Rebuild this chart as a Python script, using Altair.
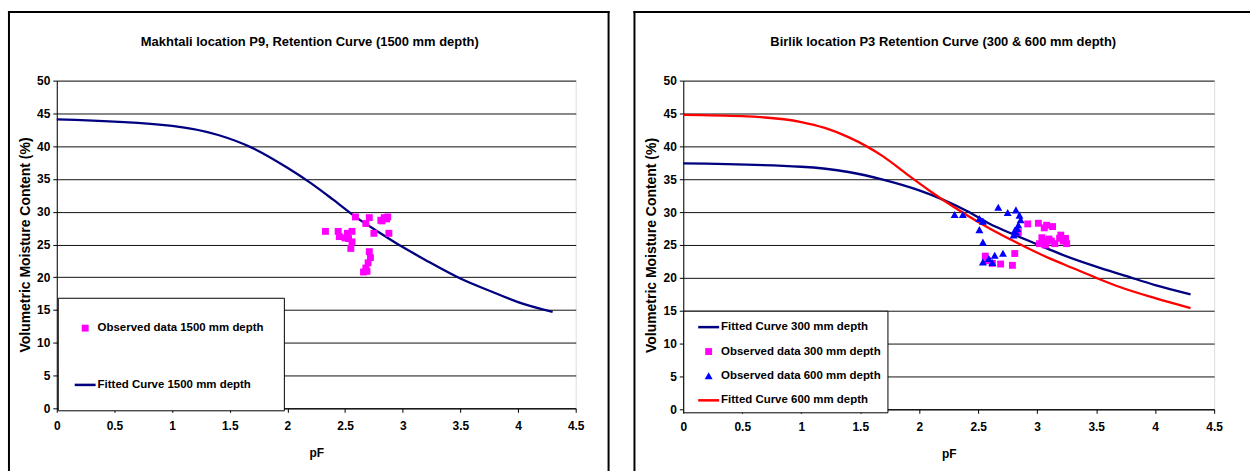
import altair as alt
import pandas as pd

FONT = "Liberation Sans"

# ---------------- Left panel: Makhtali P9 (1500 mm) ----------------
L_TITLE = "Makhtali location P9, Retention Curve (1500 mm depth)"
L_SERIES = ["Observed data 1500 mm depth", "Fitted Curve 1500 mm depth"]

L_fit_pf = [0, 1.0, 1.4, 1.7, 2.0, 2.2, 2.4, 2.6, 2.8, 3.0, 3.2, 3.5, 3.8, 4.0, 4.3]
L_fit_vmc = [44.1, 43.1, 41.7, 39.7, 36.7, 34.4, 31.8, 29.1, 26.8, 24.6, 22.6, 19.8, 17.6, 16.2, 14.7]

L_obs_pf = [2.33, 2.44, 2.45, 2.52, 2.53, 2.56, 2.56, 2.55, 2.59, 2.68, 2.71, 2.75, 2.81,
            2.84, 2.87, 2.88, 2.71, 2.72, 2.70, 2.68, 2.66, 2.69, 2.82, 2.86, 2.50]
L_obs_vmc = [27.0, 27.0, 26.2, 26.7, 25.9, 27.0, 25.4, 24.4, 29.2, 28.2, 29.1, 26.7, 28.7,
             29.1, 29.2, 26.7, 23.9, 23.0, 22.2, 21.4, 20.8, 20.9, 28.6, 28.9, 26.0]

# ---------------- Right panel: Birlik P3 (300 & 600 mm) ----------------
R_TITLE = "Birlik location P3 Retention Curve (300 & 600 mm depth)"
R_SERIES = ["Fitted Curve 300 mm depth", "Observed data 300 mm depth",
            "Observed data 600 mm depth", "Fitted Curve 600 mm depth"]

R_fit300_pf = [0, 1.0, 1.4, 1.7, 2.0, 2.2, 2.4, 2.6, 2.8, 3.0, 3.2, 3.5, 3.75, 4.0, 4.3]
R_fit300_vmc = [37.4, 36.9, 36.1, 34.9, 33.3, 31.9, 30.2, 28.2, 26.6, 25.1, 23.6, 21.7, 20.3, 18.9, 17.5]

R_fit600_pf = [0, 0.5, 1.0, 1.2, 1.4, 1.7, 1.9, 2.1, 2.3, 2.5, 2.7, 2.9, 3.1, 3.3, 3.5, 3.7, 4.0, 4.3]
R_fit600_vmc = [44.8, 44.6, 43.7, 42.8, 41.4, 38.4, 35.7, 33.1, 30.7, 28.5, 26.5, 24.7, 23.0, 21.5, 20.0, 18.6, 16.9, 15.4]

R_obs300_pf = [2.92, 3.01, 3.08, 3.13, 3.06, 3.04, 3.02, 3.07, 3.10, 3.15, 3.19, 3.20, 3.24,
               3.25, 3.12, 3.22, 3.05, 2.84, 2.56, 2.62, 2.58, 2.69, 2.79, 2.81]
R_obs300_vmc = [28.2, 28.3, 28.0, 27.8, 27.6, 26.1, 25.2, 25.0, 25.9, 25.2, 26.0, 26.5, 26.0,
                25.2, 25.6, 25.6, 25.6, 26.9, 23.3, 22.2, 22.6, 22.1, 21.9, 23.7]

R_obs600_pf = [2.30, 2.37, 2.51, 2.54, 2.51, 2.54, 2.67, 2.75, 2.82, 2.85, 2.86, 2.84, 2.83,
               2.82, 2.80, 2.54, 2.59, 2.62, 2.64, 2.71, 2.81]
R_obs600_vmc = [29.6, 29.6, 29.0, 28.6, 27.3, 25.4, 30.7, 29.9, 30.3, 29.5, 28.8, 28.0, 27.5,
                26.9, 26.5, 22.4, 22.9, 22.3, 23.4, 23.7, 27.2]

X_TICKS = [0, 0.5, 1, 1.5, 2, 2.5, 3, 3.5, 4, 4.5]
Y_TICKS = list(range(0, 51, 5))

NAVY = "#000080"
MAGENTA = "#FF00FF"
BLUE = "#0000FF"
RED = "#FF0000"

SQUARE = "M-0.33,-0.33H0.33V0.33H-0.33Z"
TRIANGLE = "M0,-0.36L0.38,0.32L-0.38,0.32Z"
LINE_SYM = "M-1,-0.12H1V0.12H-1Z"


def frame_rule(x, y, x2, y2):
    return alt.Chart(alt.Data(values=[{}])).mark_rule(
        color="black", strokeWidth=2, strokeCap="square"
    ).encode(x=alt.value(x), y=alt.value(y), x2=alt.value(x2), y2=alt.value(y2))


def title_text(text, x, y):
    return alt.Chart(alt.Data(values=[{}])).mark_text(
        text=text, font=FONT, fontSize=13, fontWeight="bold", color="black",
        align="center", baseline="middle"
    ).encode(x=alt.value(x), y=alt.value(y))


def axes(height, ytitle_x, xtitle_x, xtitle_y):
    common = dict(
        labelFont=FONT, labelFontSize=12, labelFontWeight="bold", labelColor="black",
        titleFont=FONT, titleFontWeight="bold", titleColor="black",
        domainColor="black", domainWidth=1, tickColor="black", tickSize=4,
    )
    xax = alt.Axis(values=X_TICKS, format="~g", grid=False, labelFlush=False,
                   labelPadding=8, title="pF", titleFontSize=12,
                   titleX=xtitle_x, titleY=xtitle_y, titleAlign="center",
                   titleBaseline="middle", **common)
    yax = alt.Axis(values=Y_TICKS, grid=True, gridColor="#111111", gridWidth=1,
                   labelPadding=3, title="Volumetric Moisture Content (%)",
                   titleFontSize=14, titleX=ytitle_x, titleY=height / 2,
                   titleAngle=270, titleAlign="center", titleBaseline="middle", **common)
    return xax, yax


def panel(series_order, colors, shapes, fitted, fitted_colors, lines_df, pts_df,
          width, height, title, title_x, legend_x, legend_y, legend_pad, legend_rowpad,
          legend_symoff, ytitle_x, frame_right, frame_right_side):
    xax, yax = axes(height, ytitle_x, width / 2, 44)
    xenc = alt.X("pF:Q", scale=alt.Scale(domain=[0, 4.5], nice=False, zero=False), axis=xax)
    yenc = alt.Y("vmc:Q", scale=alt.Scale(domain=[0, 50], nice=False), axis=yax)

    legend = alt.Legend(
        orient="none", legendX=legend_x, legendY=legend_y, title=None,
        padding=legend_pad, rowPadding=legend_rowpad, symbolOffset=legend_symoff,
        labelOffset=2, strokeColor="black", fillColor="white",
        labelFont=FONT, labelFontSize=11.5, labelFontWeight="bold", labelColor="black",
        symbolSize=441, symbolStrokeWidth=0, symbolOpacity=1, labelLimit=400,
    )

    pts = alt.Chart(pts_df).mark_point(filled=True, size=441, opacity=1, strokeWidth=0).encode(
        x=xenc, y=yenc,
        fill=alt.Fill("series:N", scale=alt.Scale(domain=series_order, range=colors),
                      legend=legend, sort=series_order),
        shape=alt.Shape("series:N", scale=alt.Scale(domain=series_order, range=shapes),
                        legend=legend, sort=series_order),
    )
    lines = alt.Chart(lines_df).mark_line(strokeWidth=2.3, interpolate="monotone").encode(
        x=xenc, y=yenc,
        stroke=alt.Stroke("series:N", scale=alt.Scale(domain=fitted, range=fitted_colors),
                          legend=None),
        order="order:Q",
    )

    top = -69
    bottom = 392
    left_x = -48 if frame_right_side else -49
    layers = [lines, pts, title_text(title, title_x, -39),
              frame_rule(left_x, top, left_x, bottom),
              frame_rule(left_x, top, frame_right, top)]
    if frame_right_side:
        layers.append(frame_rule(frame_right, top, frame_right, bottom))

    return alt.layer(*layers).properties(width=width, height=height)


def make_df(pairs):
    rows = []
    for name, xs, ys in pairs:
        for i, (a, b) in enumerate(zip(xs, ys)):
            rows.append({"series": name, "pF": a, "vmc": b, "order": i})
    return pd.DataFrame(rows)


L_lines = make_df([(L_SERIES[1], L_fit_pf, L_fit_vmc)])
L_pts = make_df([(L_SERIES[0], L_obs_pf, L_obs_vmc)])

R_lines = make_df([(R_SERIES[0], R_fit300_pf, R_fit300_vmc),
                   (R_SERIES[3], R_fit600_pf, R_fit600_vmc)])
R_pts = make_df([(R_SERIES[1], R_obs300_pf, R_obs300_vmc),
                 (R_SERIES[2], R_obs600_pf, R_obs600_vmc)])

left = panel(L_SERIES, [MAGENTA, NAVY], [SQUARE, LINE_SYM],
             [L_SERIES[1]], [NAVY], L_lines, L_pts,
             521, 329, L_TITLE, 254, 1, 218, 20, 41, -3, -31, 554, True)
right = panel(R_SERIES, [NAVY, MAGENTA, BLUE, RED], [LINE_SYM, SQUARE, TRIANGLE, LINE_SYM],
              [R_SERIES[0], R_SERIES[3]], [NAVY, RED], R_lines, R_pts,
              533, 330, R_TITLE, 261, 0, 231, 6, 8.5, 9, -32, 568, False)

chart = alt.hconcat(left, right, spacing=22).resolve_scale(
    fill="independent", shape="independent", stroke="independent"
).resolve_legend(
    fill="independent", shape="independent", stroke="independent"
).properties(
    padding={"left": 7, "top": 9, "right": 0, "bottom": 0}
).configure_view(stroke="#808080", strokeWidth=1).configure(background="white")

chart.save("out.html", embed_options={"renderer": "svg", "actions": False})
